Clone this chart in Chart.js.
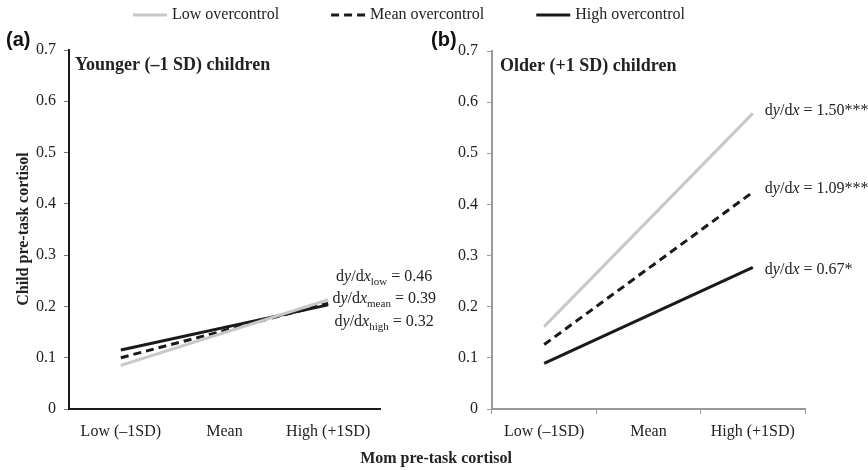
<!DOCTYPE html>
<html><head><meta charset="utf-8">
<script src="https://cdn.jsdelivr.net/npm/chart.js@4"></script>
<style>
html,body{margin:0;padding:0;background:#fff;}
#wrap{position:relative;width:868px;height:470px;}
canvas{position:absolute;left:0;top:0;}
</style></head><body>
<div id="wrap"><canvas id="ca" width="868" height="470"></canvas><canvas id="cb" width="868" height="470"></canvas></div>
<script>
// ---- data ----
const categories = ['Low (\u20131SD)', 'Mean', 'High (+1SD)'];
const seriesNames = ['Low overcontrol', 'Mean overcontrol', 'High overcontrol'];
// straight simple-slope lines: only the two ends are read, the middle is spanned
const youngerLow  = [0.085, null, 0.213];
const youngerMean = [0.100, null, 0.206];
const youngerHigh = [0.115, null, 0.203];
const olderLow  = [0.161, null, 0.578];
const olderMean = [0.126, null, 0.424];
const olderHigh = [0.089, null, 0.277];
const yMin = 0, yMax = 0.7, yStep = 0.1;
const youngerSlopeSubs = ['low', 'mean', 'high'];
const youngerSlopeVals = ['0.46', '0.39', '0.32'];
const olderSlopeVals = ['1.50***', '1.09***', '0.67*'];
const panelTitles = ['Younger (\u20131 SD) children', 'Older (+1 SD) children'];
const panelLetters = ['(a)', '(b)'];
const yTitle = 'Child pre-task cortisol';
const xTitle = 'Mom pre-task cortisol';

// ---- styles ----
const SERIF = '"Liberation Serif", "Times New Roman", serif';
const SANS = '"Liberation Sans", Arial, sans-serif';
const TXT = '#222';
const seriesStyles = [
  {color: '#c8c8c8', dash: []},
  {color: '#1a1a1a', dash: [8, 5]},
  {color: '#1a1a1a', dash: []}
];

function ds(values, i) {
  return {
    label: seriesNames[i], data: values,
    borderColor: seriesStyles[i].color, borderDash: seriesStyles[i].dash,
    borderWidth: 3, pointRadius: 0, pointHoverRadius: 0, spanGaps: true,
    tension: 0, fill: false, borderCapStyle: 'butt'
  };
}

function drawSlopeText(ctx, x, y, sub, val, align) {
  const main = '16px ' + SERIF, ital = 'italic 16px ' + SERIF, small = '11px ' + SERIF;
  const parts = [['d', main, 0], ['y', ital, 0], ['/d', main, 0], ['x', ital, 0]];
  if (sub) parts.push([sub, small, 4]);
  parts.push([' = ' + val, main, 0]);
  let w = 0;
  parts.forEach(p => { ctx.font = p[1]; w += ctx.measureText(p[0]).width; });
  let cx = align === 'center' ? x - w / 2 : x;
  ctx.textAlign = 'left'; ctx.textBaseline = 'alphabetic'; ctx.fillStyle = TXT;
  parts.forEach(p => { ctx.font = p[1]; ctx.fillText(p[0], cx, y + p[2]); cx += ctx.measureText(p[0]).width; });
}

function makeChart(id, datasets, cfg) {
  return new Chart(document.getElementById(id), {
    type: 'line',
    data: {labels: categories, datasets: datasets},
    options: {
      responsive: false, animation: false, devicePixelRatio: 1,
      layout: {padding: cfg.padding},
      plugins: {legend: {display: false}, tooltip: {enabled: false}},
      scales: {
        x: {
          type: 'category', offset: true,
          grid: {offset: true, drawOnChartArea: false, drawTicks: true, tickLength: 5, tickColor: cfg.xTickColor, tickWidth: 1},
          border: {display: true, color: cfg.axisColor, width: 2},
          ticks: {font: {family: SERIF, size: 16}, color: TXT, padding: 8, maxRotation: 0},
          afterFit: s => { s.height = 61; }
        },
        y: {
          min: yMin, max: yMax,
          grid: {drawOnChartArea: false, drawTicks: true, tickLength: 5, tickColor: cfg.yTickColor, tickWidth: 1},
          border: {display: true, color: cfg.axisColor, width: 2},
          ticks: {stepSize: yStep, font: {family: SERIF, size: 16}, color: TXT, padding: cfg.yPad,
                  callback: v => v === 0 ? '0' : v.toFixed(1)},
          afterFit: s => { s.width = cfg.yWidth; }
        }
      }
    },
    plugins: [{id: 'txt' + id, afterDatasetsDraw: cfg.draw}]
  });
}

// Panel (a)
makeChart('ca', [ds(youngerLow, 0), ds(youngerMean, 1), ds(youngerHigh, 2)], {
  padding: {left: 0, right: 488, top: 50, bottom: 0}, yWidth: 69, yPad: 8,
  axisColor: '#1a1a1a', xTickColor: 'rgba(0,0,0,0)', yTickColor: '#777',
  draw: chart => {
    const ctx = chart.ctx, a = chart.chartArea, xs = chart.scales.x, ys = chart.scales.y;
    ctx.save();
    // legend
    let lx = 133; const ly = 15;
    seriesNames.forEach((n, i) => {
      ctx.strokeStyle = seriesStyles[i].color; ctx.lineWidth = 3; ctx.setLineDash(seriesStyles[i].dash);
      ctx.beginPath(); ctx.moveTo(lx, ly); ctx.lineTo(lx + 34, ly); ctx.stroke();
      ctx.setLineDash([]);
      ctx.font = '16px ' + SERIF; ctx.fillStyle = TXT; ctx.textAlign = 'left'; ctx.textBaseline = 'middle';
      ctx.fillText(n, lx + 39, ly);
      lx += 39 + ctx.measureText(n).width + 52;
    });
    // panel letter + title
    ctx.font = 'bold 20px ' + SANS; ctx.fillStyle = '#111'; ctx.textBaseline = 'middle';
    ctx.fillText(panelLetters[0], 6, 40);
    ctx.font = 'bold 18px ' + SERIF; ctx.fillStyle = TXT;
    ctx.fillText(panelTitles[0], a.left + 6, a.top + 15);
    // y title
    ctx.save(); ctx.translate(24, 229); ctx.rotate(-Math.PI / 2);
    ctx.font = 'bold 16px ' + SERIF; ctx.textAlign = 'center'; ctx.textBaseline = 'middle';
    ctx.fillText(yTitle, 0, 0); ctx.restore();
    // x title (shared)
    ctx.font = 'bold 16px ' + SERIF; ctx.textAlign = 'center'; ctx.textBaseline = 'middle';
    ctx.fillText(xTitle, 436, 459);
    // slopes
    const ex = xs.getPixelForValue(2) + 56, ey = ys.getPixelForValue(youngerMean[2]);
    youngerSlopeSubs.forEach((s, i) => drawSlopeText(ctx, ex, ey + (i - 1) * 22.5, s, youngerSlopeVals[i], 'center'));
    ctx.restore();
  }
});

// Panel (b)
const olderEnds = [olderLow[2], olderMean[2], olderHigh[2]];
const olderOffsets = [2, 1, 7];
makeChart('cb', [ds(olderLow, 0), ds(olderMean, 1), ds(olderHigh, 2)], {
  padding: {left: 432, right: 63, top: 51, bottom: 0}, yWidth: 60, yPad: 9,
  axisColor: '#9a9a9a', xTickColor: '#9a9a9a', yTickColor: '#9a9a9a',
  draw: chart => {
    const ctx = chart.ctx, a = chart.chartArea, xs = chart.scales.x, ys = chart.scales.y;
    ctx.save();
    ctx.font = 'bold 20px ' + SANS; ctx.fillStyle = '#111'; ctx.textAlign = 'left'; ctx.textBaseline = 'middle';
    ctx.fillText(panelLetters[1], 431, 40);
    ctx.font = 'bold 18px ' + SERIF; ctx.fillStyle = TXT;
    ctx.fillText(panelTitles[1], a.left + 8, a.top + 15);
    const ex = xs.getPixelForValue(2) + 12;
    olderSlopeVals.forEach((v, i) => drawSlopeText(ctx, ex, ys.getPixelForValue(olderEnds[i]) + olderOffsets[i], null, v, 'left'));
    ctx.restore();
  }
});
</script>
</body></html>
